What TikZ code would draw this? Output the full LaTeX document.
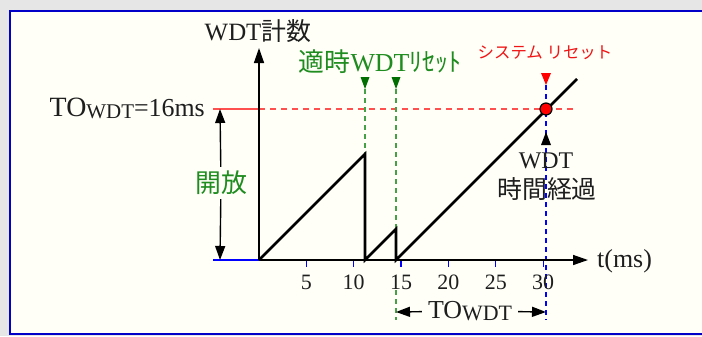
\documentclass[tikz,border=0pt]{standalone}
\usepackage{fontspec}
\setmainfont{Liberation Serif}
\newfontfamily\cjk{Noto Sans CJK JP}
\usetikzlibrary{arrows.meta,calc}
\definecolor{bggray}{RGB}{230,230,230}
\definecolor{cream}{RGB}{255,255,248}
\definecolor{frameblue}{RGB}{0,0,200}
\definecolor{tgreen}{RGB}{30,140,30}
\definecolor{mgreen}{RGB}{0,110,0}
\definecolor{dgreen}{RGB}{70,160,70}
\definecolor{lred}{RGB}{255,80,80}
\definecolor{tred}{RGB}{240,20,20}
\definecolor{axblue}{RGB}{0,0,255}
\definecolor{ink}{RGB}{30,30,30}
\tikzset{
  axisline/.style={line width=1.4bp, draw=black, -{Triangle[length=15bp,width=10bp]}},
  arr/.style={line width=1.4bp, draw=black, -{Triangle[length=14bp,width=10bp]}},
  wave/.style={line width=2.6bp, draw=black, line join=miter},
  gdash/.style={line width=1.6bp, draw=dgreen, dash pattern=on 5bp off 4bp},
  bdash/.style={line width=1.2bp, draw=axblue, dash pattern=on 5bp off 4bp},
  rdash/.style={line width=1.2bp, draw=lred, dash pattern=on 6bp off 5bp},
  tickline/.style={line width=1.2bp, draw=axblue},
  lbl/.style={inner sep=0pt, text=ink, font=\fontsize{20}{22}\selectfont},
  ticklbl/.style={inner sep=0pt, text=ink, font=\fontsize{22}{24}\selectfont},
}
\newcommand{\wdtsub}[1]{\raisebox{-2bp}{\fontsize{#1}{#1}\selectfont WDT}}
\begin{document}
\begin{tikzpicture}[x=1bp,y=-1bp]
\useasboundingbox (0,0) rectangle (702,336);
% background and frame
\fill[bggray] (0,0) rectangle (702,336);
\fill[cream] (9,10) rectangle (720,334);
\draw[frameblue, line width=2bp] (720,11) -- (9.5,11) -- (9.5,333.5) -- (720,333.5);

% key coordinates
\coordinate (O) at (259,260);
\coordinate (ytop) at (259,48);
\coordinate (xend) at (588,260);
\coordinate (xleft) at (213,260);
\coordinate (rleft) at (213,109);
\coordinate (r0) at (259,109);
\coordinate (rend) at (577,109);
\coordinate (p1) at (365,154);
\coordinate (d1) at (365,260);
\coordinate (p2) at (396,229);
\coordinate (d2) at (396,260);
\coordinate (wend) at (577,79);
\coordinate (hit) at (546,109);
\coordinate (g1) at (365,89);
\coordinate (g2) at (396,89);
\coordinate (rt) at (546,85);
\coordinate (gb1) at (396,290);
\coordinate (gb2) at (396,320);
\coordinate (bb) at (546,320);
\coordinate (kt) at (220,109);
\coordinate (kb) at (220,260);
\coordinate (tl) at (396,312);
\coordinate (tr) at (546,312);
\coordinate (up) at (546,132);

% reference lines
\draw[rdash] (r0) -- (rend);
\draw[line width=1.2bp, draw=lred] (rleft) -- (r0);
\draw[line width=1.2bp, draw=axblue] (xleft) -- (O);
\draw[gdash] (g1) -- (p1);
\draw[gdash] (g2) -- (p2);
\draw[gdash] (gb1) -- (gb2);
\draw[bdash] (rt) -- (bb);

% ticks
\foreach \t in {5,10,...,30}{
  \draw[tickline] ($(O)+(\t*9.47,0)$) -- ++(0,7);
  \node[ticklbl] (tk\t) at ($(O)+(\t*9.47,22)$) {\t};
}

% axes
\draw[axisline] (O) -- (ytop);
\draw[axisline] (O) -- (xend);
\node[lbl, anchor=west, font=\fontsize{26}{28}\selectfont] (tlab) at (597,261) {t(ms)};
\node[lbl, font=\fontsize{25}{27}\selectfont] (ylab) at (258,31) {WDT{\cjk 計数}};

% sawtooth
\draw[wave] (O) -- (p1) -- (d1) -- (p2) -- (d2) -- (wend);

% markers
\fill[mgreen] (g1) -- ++(-4.5,-12) -- ++(9,0) -- cycle;
\fill[mgreen] (g2) -- ++(-4.5,-12) -- ++(9,0) -- cycle;
\fill[red] (rt) -- ++(-5,-12) -- ++(10,0) -- cycle;
\fill[black] (up) -- ++(-5,13) -- ++(10,0) -- cycle;
\node[circle, fill=red, draw=black, line width=1.2bp, minimum size=12bp, inner sep=0pt] (dot) at (hit) {};

% labels
\node[lbl, text=tgreen, font=\fontsize{26}{28}\selectfont] (tekiji) at (380,62) {{\cjk 適時}WDT{\cjk ﾘｾｯﾄ}};
\node[lbl, text=tred, font=\fontsize{16.5}{18}\selectfont] (sysr) at (545,53) {\cjk システム リセット};
\node[lbl, anchor=east, font=\fontsize{26}{28}\selectfont] (towlab) at (205,108) {{\fontsize{28}{28}\selectfont TO}\wdtsub{21}=16ms};
\node[lbl, text=tgreen, inner sep=4bp, font=\fontsize{26}{28}\selectfont] (kaiho) at (221,183) {\cjk 開放};
\draw[arr] (kaiho) -- (kt);
\draw[arr] (kaiho) -- (kb);
\node[lbl, font=\fontsize{24}{26}\selectfont] (wdt2) at (546,161) {WDT};
\node[lbl, font=\fontsize{25}{26}\selectfont] (jikan) at (547,189) {\cjk 時間経過};
\node[lbl, inner xsep=6bp, font=\fontsize{26}{28}\selectfont] (tow) at (470,311) {TO\wdtsub{22}};
\draw[arr] (tow) -- (tl);
\draw[arr] (tow) -- (tr);
\end{tikzpicture}
\end{document}
